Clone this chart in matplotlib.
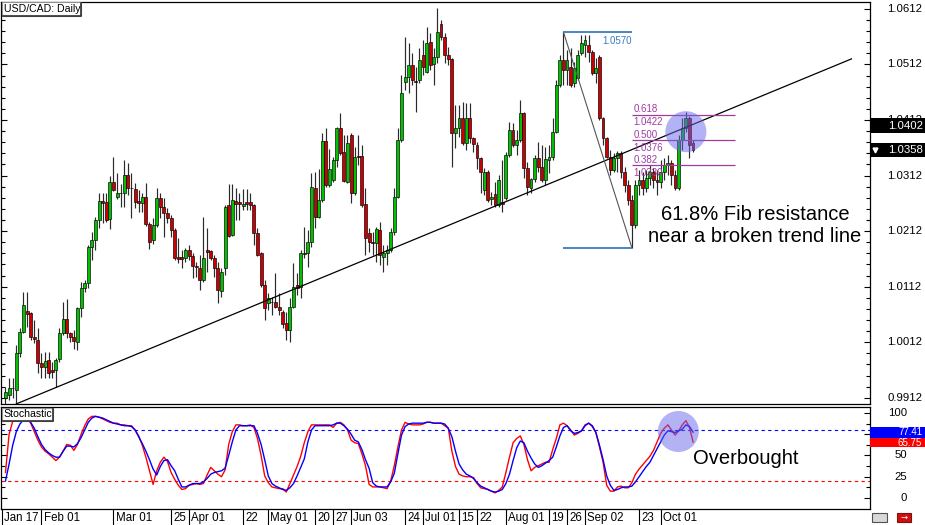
import matplotlib
matplotlib.use("Agg")
import matplotlib.pyplot as plt
import matplotlib.transforms as mtransforms
from matplotlib.patches import Rectangle
from matplotlib.ticker import FixedLocator
import numpy as np

plt.rcParams['font.family'] = ['Liberation Sans', 'DejaVu Sans']

# ---------------- data (USD/CAD daily, Jan 17 .. Oct 11) ----------------
opens = [0.9912, 0.9917, 0.9930, 0.9926, 0.9993, 1.0030, 1.0068, 1.0065, 1.0021, 1.0016,
         0.9975, 0.9967, 0.9980, 0.9962, 0.9962, 0.9982, 1.0029, 1.0054, 1.0029, 1.0021,
         1.0012, 1.0074, 1.0110, 1.0119, 1.0183, 1.0196, 1.0232, 1.0266, 1.0264, 1.0234,
         1.0300, 1.0273, 1.0281, 1.0281, 1.0313, 1.0290, 1.0288, 1.0266, 1.0263, 1.0273,
         1.0225, 1.0196, 1.0223, 1.0272, 1.0255, 1.0245, 1.0236, 1.0214, 1.0165, 1.0165,
         1.0164, 1.0178, 1.0167, 1.0149, 1.0146, 1.0124, 1.0178, 1.0176, 1.0164, 1.0146,
         1.0104, 1.0146, 1.0259, 1.0205, 1.0266, 1.0264, 1.0257, 1.0264, 1.0264, 1.0259,
         1.0209, 1.0173, 1.0115, 1.0083, 1.0085, 1.0084, 1.0075, 1.0066, 1.0047, 1.0034,
         1.0075, 1.0115, 1.0111, 1.0173, 1.0173, 1.0192, 1.0290, 1.0237, 1.0268, 1.0374,
         1.0295, 1.0304, 1.0340, 1.0398, 1.0354, 1.0300, 1.0385, 1.0281, 1.0347, 1.0347,
         1.0261, 1.0209, 1.0192, 1.0191, 1.0214, 1.0165, 1.0173, 1.0178, 1.0210, 1.0273,
         1.0376, 1.0480, 1.0489, 1.0511, 1.0482, 1.0484, 1.0529, 1.0498, 1.0552, 1.0513,
         1.0525, 1.0585, 1.0561, 1.0529, 1.0522, 1.0389, 1.0398, 1.0416, 1.0371, 1.0416,
         1.0380, 1.0367, 1.0344, 1.0286, 1.0318, 1.0270, 1.0279, 1.0259, 1.0264, 1.0272,
         1.0349, 1.0394, 1.0367, 1.0376, 1.0425, 1.0326, 1.0290, 1.0306, 1.0344, 1.0327,
         1.0304, 1.0340, 1.0345, 1.0390, 1.0475, 1.0520, 1.0502, 1.0507, 1.0479, 1.0488,
         1.0533, 1.0547, 1.0547, 1.0534, 1.0497, 1.0525, 1.0416, 1.0380, 1.0345, 1.0322,
         1.0344, 1.0353, 1.0318, 1.0295, 1.0268, 1.0223, 1.0295, 1.0304, 1.0290, 1.0308,
         1.0318, 1.0304, 1.0300, 1.0318, 1.0331, 1.0335, 1.0313, 1.0290, 1.0376, 1.0398,
         1.0416, 1.0371]
highs = [0.9931, 0.9948, 0.9948, 1.0007, 1.0038, 1.0102, 1.0102, 1.0067, 1.0052, 1.0038,
         0.9993, 0.9994, 0.9994, 0.9976, 0.9984, 1.0038, 1.0084, 1.0090, 1.0030, 1.0034,
         1.0075, 1.0120, 1.0124, 1.0187, 1.0210, 1.0237, 1.0281, 1.0281, 1.0281, 1.0311,
         1.0345, 1.0317, 1.0297, 1.0340, 1.0335, 1.0317, 1.0299, 1.0286, 1.0281, 1.0299,
         1.0228, 1.0236, 1.0290, 1.0281, 1.0272, 1.0254, 1.0241, 1.0218, 1.0200, 1.0178,
         1.0182, 1.0187, 1.0173, 1.0156, 1.0169, 1.0237, 1.0218, 1.0178, 1.0169, 1.0156,
         1.0146, 1.0259, 1.0297, 1.0297, 1.0290, 1.0281, 1.0288, 1.0288, 1.0281, 1.0261,
         1.0218, 1.0174, 1.0124, 1.0101, 1.0093, 1.0137, 1.0101, 1.0070, 1.0066, 1.0092,
         1.0155, 1.0137, 1.0178, 1.0219, 1.0214, 1.0317, 1.0318, 1.0324, 1.0389, 1.0398,
         1.0360, 1.0345, 1.0399, 1.0425, 1.0385, 1.0385, 1.0389, 1.0363, 1.0385, 1.0367,
         1.0290, 1.0218, 1.0210, 1.0219, 1.0228, 1.0187, 1.0187, 1.0218, 1.0290, 1.0398,
         1.0493, 1.0561, 1.0551, 1.0533, 1.0507, 1.0542, 1.0556, 1.0579, 1.0569, 1.0542,
         1.0614, 1.0592, 1.0569, 1.0543, 1.0524, 1.0439, 1.0439, 1.0444, 1.0443, 1.0443,
         1.0381, 1.0372, 1.0345, 1.0326, 1.0322, 1.0282, 1.0300, 1.0313, 1.0340, 1.0354,
         1.0408, 1.0407, 1.0394, 1.0448, 1.0426, 1.0336, 1.0308, 1.0349, 1.0372, 1.0367,
         1.0363, 1.0367, 1.0416, 1.0484, 1.0529, 1.0570, 1.0538, 1.0542, 1.0516, 1.0538,
         1.0565, 1.0565, 1.0565, 1.0538, 1.0524, 1.0529, 1.0417, 1.0381, 1.0358, 1.0353,
         1.0356, 1.0356, 1.0327, 1.0304, 1.0277, 1.0304, 1.0322, 1.0318, 1.0322, 1.0331,
         1.0326, 1.0322, 1.0340, 1.0344, 1.0349, 1.0340, 1.0322, 1.0385, 1.0416, 1.0426,
         1.0420, 1.0376]
lows = [0.9901, 0.9908, 0.9912, 0.9902, 0.9985, 1.0029, 1.0039, 1.0016, 1.0011, 0.9957,
        0.9948, 0.9948, 0.9948, 0.9948, 0.9931, 0.9976, 1.0025, 1.0020, 1.0012, 1.0000,
        0.9998, 1.0057, 1.0102, 1.0110, 1.0160, 1.0178, 1.0218, 1.0227, 1.0228, 1.0216,
        1.0284, 1.0270, 1.0255, 1.0255, 1.0277, 1.0236, 1.0254, 1.0246, 1.0246, 1.0221,
        1.0180, 1.0189, 1.0219, 1.0236, 1.0201, 1.0227, 1.0201, 1.0160, 1.0155, 1.0146,
        1.0156, 1.0160, 1.0128, 1.0129, 1.0106, 1.0120, 1.0138, 1.0160, 1.0129, 1.0083,
        1.0093, 1.0133, 1.0201, 1.0203, 1.0232, 1.0232, 1.0250, 1.0250, 1.0250, 1.0187,
        1.0167, 1.0111, 1.0052, 1.0070, 1.0061, 1.0074, 1.0061, 1.0038, 1.0016, 1.0012,
        1.0074, 1.0097, 1.0092, 1.0164, 1.0147, 1.0183, 1.0218, 1.0236, 1.0264, 1.0291,
        1.0291, 1.0300, 1.0327, 1.0349, 1.0300, 1.0299, 1.0263, 1.0277, 1.0331, 1.0255,
        1.0169, 1.0174, 1.0169, 1.0156, 1.0151, 1.0138, 1.0151, 1.0174, 1.0205, 1.0272,
        1.0372, 1.0466, 1.0461, 1.0475, 1.0426, 1.0479, 1.0493, 1.0497, 1.0502, 1.0475,
        1.0515, 1.0556, 1.0515, 1.0511, 1.0327, 1.0362, 1.0381, 1.0367, 1.0358, 1.0371,
        1.0354, 1.0324, 1.0281, 1.0277, 1.0264, 1.0259, 1.0255, 1.0255, 1.0246, 1.0268,
        1.0345, 1.0363, 1.0349, 1.0372, 1.0308, 1.0277, 1.0281, 1.0300, 1.0318, 1.0300,
        1.0295, 1.0317, 1.0340, 1.0389, 1.0471, 1.0475, 1.0475, 1.0471, 1.0471, 1.0484,
        1.0529, 1.0525, 1.0516, 1.0493, 1.0479, 1.0412, 1.0367, 1.0344, 1.0313, 1.0318,
        1.0318, 1.0308, 1.0282, 1.0259, 1.0182, 1.0218, 1.0277, 1.0277, 1.0282, 1.0295,
        1.0290, 1.0277, 1.0290, 1.0304, 1.0313, 1.0295, 1.0286, 1.0286, 1.0358, 1.0390,
        1.0344, 1.0354]
closes = [0.9922, 0.9930, 0.9929, 0.9993, 1.0030, 1.0079, 1.0063, 1.0021, 1.0018, 0.9975,
          0.9967, 0.9978, 0.9957, 0.9958, 0.9980, 1.0029, 1.0054, 1.0029, 1.0021, 1.0014,
          1.0074, 1.0110, 1.0119, 1.0183, 1.0196, 1.0232, 1.0266, 1.0263, 1.0232, 1.0300,
          1.0286, 1.0281, 1.0280, 1.0313, 1.0290, 1.0289, 1.0264, 1.0263, 1.0273, 1.0225,
          1.0192, 1.0223, 1.0272, 1.0255, 1.0245, 1.0236, 1.0214, 1.0164, 1.0162, 1.0162,
          1.0178, 1.0167, 1.0149, 1.0147, 1.0124, 1.0164, 1.0174, 1.0164, 1.0146, 1.0106,
          1.0138, 1.0255, 1.0203, 1.0268, 1.0261, 1.0261, 1.0261, 1.0261, 1.0259, 1.0209,
          1.0169, 1.0115, 1.0074, 1.0092, 1.0084, 1.0075, 1.0070, 1.0045, 1.0034, 1.0075,
          1.0111, 1.0110, 1.0173, 1.0171, 1.0192, 1.0291, 1.0237, 1.0268, 1.0374, 1.0295,
          1.0324, 1.0340, 1.0398, 1.0353, 1.0302, 1.0371, 1.0281, 1.0345, 1.0345, 1.0259,
          1.0200, 1.0192, 1.0191, 1.0216, 1.0169, 1.0173, 1.0178, 1.0210, 1.0273, 1.0376,
          1.0461, 1.0489, 1.0511, 1.0484, 1.0480, 1.0520, 1.0507, 1.0551, 1.0511, 1.0525,
          1.0570, 1.0561, 1.0529, 1.0522, 1.0389, 1.0398, 1.0416, 1.0371, 1.0416, 1.0380,
          1.0369, 1.0344, 1.0318, 1.0318, 1.0268, 1.0273, 1.0259, 1.0304, 1.0261, 1.0349,
          1.0394, 1.0367, 1.0376, 1.0425, 1.0326, 1.0291, 1.0306, 1.0344, 1.0327, 1.0304,
          1.0342, 1.0345, 1.0390, 1.0475, 1.0520, 1.0502, 1.0520, 1.0475, 1.0506, 1.0529,
          1.0551, 1.0556, 1.0534, 1.0497, 1.0506, 1.0416, 1.0380, 1.0345, 1.0322, 1.0344,
          1.0353, 1.0318, 1.0295, 1.0268, 1.0223, 1.0295, 1.0304, 1.0290, 1.0308, 1.0318,
          1.0304, 1.0300, 1.0318, 1.0331, 1.0335, 1.0313, 1.0290, 1.0376, 1.0398, 1.0416,
          1.0367, 1.0358]

stoch_main = [30, 75, 90, 92, 94, 94, 94, 88, 78, 68, 60, 55, 52, 48, 44, 48, 55, 63, 62, 56,
              63, 75, 85, 93, 96, 96, 95, 93, 91, 89, 88, 88, 86, 86, 85, 85, 80, 73, 62, 48,
              32, 16, 32, 42, 48, 43, 30, 22, 15, 10, 11, 15, 16, 17, 16, 17, 27, 36, 32, 28,
              25, 33, 63, 78, 86, 86, 85, 85, 86, 83, 70, 50, 26, 18, 13, 12, 11, 11, 7, 17,
              27, 37, 49, 65, 78, 86, 86, 86, 86, 86, 86, 83, 88, 89, 86, 80, 68, 65, 64, 52,
              38, 16, 13, 13, 13, 12, 11, 20, 38, 60, 80, 89, 87, 86, 86, 86, 87, 89, 89, 88,
              88, 88, 85, 82, 55, 37, 28, 26, 25, 25, 24, 17, 12, 11, 10, 8, 6, 9, 13, 30,
              48, 65, 70, 73, 63, 45, 32, 36, 38, 40, 42, 42, 57, 70, 86, 88, 85, 80, 74, 76,
              79, 86, 88, 84, 77, 60, 42, 15, 8, 8, 13, 14, 12, 12, 18, 28, 34, 39, 44, 49,
              56, 66, 76, 82, 86, 80, 74, 79, 86, 91, 83, 65.75]
stoch_signal = [20, 40, 62, 78, 87, 92, 93, 89, 82, 72, 63, 57, 53, 50, 48, 48, 55, 61, 61, 60,
                64, 71, 80, 89, 94, 96, 95, 94, 92, 90, 88, 87, 86, 85, 85, 84, 80, 72, 64, 55,
                45, 34, 27, 37, 44, 45, 38, 32, 22, 13, 13, 15, 17, 17, 17, 19, 23, 28, 30, 31,
                32, 35, 50, 66, 80, 85, 85, 85, 85, 85, 76, 63, 45, 26, 17, 14, 12, 10, 9, 12,
                17, 26, 36, 46, 66, 80, 85, 85, 85, 85, 85, 86, 88, 88, 85, 81, 75, 68, 66, 57,
                45, 35, 18, 14, 13, 13, 13, 19, 29, 52, 74, 84, 87, 88, 88, 88, 88, 89, 89, 88,
                88, 88, 87, 82, 72, 55, 40, 33, 28, 26, 23, 18, 14, 12, 10, 8, 7, 8, 10, 17,
                28, 44, 59, 67, 65, 55, 47, 40, 36, 38, 41, 44, 48, 60, 73, 83, 85, 79, 76, 77,
                79, 85, 88, 85, 77, 62, 45, 26, 15, 9, 10, 12, 13, 13, 14, 19, 25, 31, 37, 42,
                50, 58, 66, 74, 79, 78, 77, 79, 81, 86, 84, 77.41]

date_labels = ["Jan 17", "Feb 01", "Mar 01", "25", "Apr 01", "22", "May 01", "20", "27",
               "Jun 03", "24", "Jul 01", "15", "22", "Aug 01", "19", "26", "Sep 02", "23", "Oct 01"]
date_label_bars = [0, 11, 31, 47, 52, 67, 74, 87, 92, 97, 112, 117, 127, 132, 140, 152, 157,
                   162, 177, 183]
price_ticks = [1.0612, 1.0512, 1.0412, 1.0312, 1.0212, 1.0112, 1.0012, 0.9912]
stoch_ticks = [100, 75, 50, 25, 0]
stoch_levels = [80, 20]

trend_start = (3, 0.9901)
trend_end = (235, 1.0522)
fib_high = (155, 1.0570)
fib_low = (174, 1.0182)
fib_ratios = [0.618, 0.500, 0.382]
fib_end_bar = 202.6
trend_price_label = 1.0402
last_price = 1.0358
highlight_price = (189.0, 1.0391)
highlight_stoch = (186.9, 78.2)

# ---------------- layout ----------------
W, H = 925, 525
fig = plt.figure(figsize=(W / 100, H / 100), dpi=100)


def frame(l, t, r, b):
    return [l / W, 1 - b / H, (r - l) / W, (b - t) / H]


ax = fig.add_axes(frame(1, 1.5, 870.5, 404))
ax2 = fig.add_axes(frame(1, 406.5, 870.5, 509))
XLIM = (-1.25, 240.28)
for a in (ax, ax2):
    a.set_xlim(*XLIM)
    a.tick_params(axis='x', which='both', bottom=False, top=False,
                  labelbottom=False)
    for s in a.spines.values():
        s.set_color('black')
        s.set_linewidth(0.9)
ax.set_ylim(0.99008, 1.06253)
ax2.set_ylim(-12.94, 107.6)

# ---------------- candles ----------------
o = np.array(opens)
hi = np.array(highs)
lo = np.array(lows)
c = np.array(closes)
idx = np.arange(len(c))
up = c >= o
ax.vlines(idx, lo, hi, color='#2a2a2a', lw=0.85, zorder=2)
body_lo = np.minimum(o, c)
body_h = np.maximum(np.abs(c - o), 0.00012)
cols = ['#00c000' if u else '#cc0000' for u in up]
ax.bar(idx, body_h, bottom=body_lo, width=0.78, color=cols,
       edgecolor='black', linewidth=0.45, zorder=3)

# trend line
ax.plot([trend_start[0], trend_end[0]], [trend_start[1], trend_end[1]],
        color='black', lw=0.9, zorder=4)

# fibonacci
fh_i, fh_p = fib_high
fl_i, fl_p = fib_low
ax.plot([fh_i, fl_i], [fh_p, fl_p], color='#555555', lw=0.8, zorder=4)
ax.hlines([fh_p, fl_p], fh_i, fl_i, color='#3a7cc0', lw=1.3, zorder=4)
ax.annotate(f'{fh_p:.4f}', (fl_i, fh_p), xytext=(0, -2.5),
            textcoords='offset points', ha='right', va='top', fontsize=7,
            color='#3a7cc0')
FIBC = '#a03ca0'
for r in fib_ratios:
    lvl = fl_p + r * (fh_p - fl_p)
    ax.hlines(lvl, fl_i, fib_end_bar, color=FIBC, lw=0.9, zorder=4)
    ax.annotate(f'{r:.3f}', (fl_i, lvl), xytext=(1, 0.3),
                textcoords='offset points', ha='left', va='bottom',
                fontsize=7, color=FIBC, zorder=5)
    ax.annotate(f'{lvl:.4f}', (fl_i, lvl), xytext=(1, -2.0),
                textcoords='offset points', ha='left', va='top',
                fontsize=7, color=FIBC, zorder=5)

# highlight circles (diameter ~41 px)
msize = (41 * 0.72) ** 2
ax.scatter([highlight_price[0]], [highlight_price[1]], s=msize,
           color=(0.40, 0.40, 0.92, 0.5), edgecolors='none', zorder=6)
ax2.scatter([highlight_stoch[0]], [highlight_stoch[1]], s=msize,
            color=(0.40, 0.40, 0.92, 0.5), edgecolors='none', zorder=6)

# ---------------- price axis ----------------
minor_p = [round(price_ticks[-1] + 0.002 * k, 4) for k in range(-1, 37)]
ax.yaxis.set_major_locator(FixedLocator(price_ticks))
ax.yaxis.set_minor_locator(FixedLocator(minor_p))
ax.tick_params(axis='y', which='both', direction='in', left=True, right=True,
               labelleft=False, labelright=False, color='black', width=0.8)
ax.tick_params(axis='y', which='major', length=4)
ax.tick_params(axis='y', which='minor', length=3)
ytr = ax.get_yaxis_transform()
for p in price_ticks:
    ax.text(1.0190, p, f'{p:.4f}', transform=ytr, ha='left', va='center',
            fontsize=8.2, clip_on=False)


def price_box(p, label, tri=False):
    hh = 7.2 * 0.00018
    ax.add_patch(Rectangle((1.0, p - hh), 0.0630, 2 * hh, transform=ytr,
                           facecolor='black', edgecolor='none', clip_on=False,
                           zorder=10))
    ax.text(1.0201, p, label, transform=ytr, ha='left', va='center',
            fontsize=8.2, color='white', clip_on=False, zorder=11)
    if tri:
        ax.plot([1.0055], [p], marker='v', markersize=3.5, color='white',
                transform=ytr, clip_on=False, zorder=11)


price_box(trend_price_label, f'{trend_price_label:.4f}')
price_box(last_price, f'{last_price:.4f}', tri=True)

# ---------------- stochastic ----------------
ax2.axhline(stoch_levels[0], color='#0000ff', lw=0.8, ls=(0, (3, 3)), zorder=1)
ax2.axhline(stoch_levels[1], color='#ff0000', lw=0.8, ls=(0, (3, 3)), zorder=1)
ax2.plot(idx, stoch_main, color='#ff0000', lw=1.0, zorder=3)
ax2.plot(idx, stoch_signal, color='#0000ff', lw=1.0, zorder=3)
ax2.yaxis.set_major_locator(FixedLocator(stoch_ticks))
ax2.yaxis.set_minor_locator(FixedLocator([12.5, 37.5, 62.5, 87.5]))
ax2.tick_params(axis='y', which='both', direction='in', left=True, right=True,
                labelleft=False, labelright=False, color='black', width=0.8)
ax2.tick_params(axis='y', which='major', length=4)
ax2.tick_params(axis='y', which='minor', length=3)
ytr2 = ax2.get_yaxis_transform()
for v in stoch_ticks:
    ax2.text(1.0420, v, f'{v:d}', transform=ytr2, ha='right', va='center',
             fontsize=8.2, clip_on=False)

# value boxes: red (main) first, blue (signal) drawn on top of it
BOX_PX = 0.85  # pixels per stochastic unit


def stoch_box(v, color, text_shift_px):
    hh = 6.3
    ax2.add_patch(Rectangle((1.0, v - hh), 0.0630, 2 * hh, transform=ytr2,
                            facecolor=color, edgecolor='none', clip_on=False,
                            zorder=10))
    ax2.text(1.0595, v + text_shift_px / BOX_PX, f'{v:.2f}', transform=ytr2,
             ha='right', va='center', fontsize=7.0, color='white',
             clip_on=False, zorder=11)


stoch_box(stoch_main[-1], '#ff0000', -1.2)
stoch_box(stoch_signal[-1], '#0000ff', 0.4)

# ---------------- date axis ----------------
bt = mtransforms.blended_transform_factory(ax2.transData, ax2.transAxes)
for b, lab in zip(date_label_bars, date_labels):
    xs = b - 1.05
    ax2.plot([xs, xs], [0, -16 / 102.5], transform=bt, color='black', lw=0.8,
             clip_on=False)
    ax2.text(xs + 0.62, -3 / 102.5, lab, transform=bt, ha='left', va='top',
             fontsize=8.3, clip_on=False)

# ---------------- labels / annotations ----------------


def label_box(l, t, r, b, text):
    fig.add_artist(Rectangle((l / W, 1 - b / H), (r - l) / W, (b - t) / H,
                             transform=fig.transFigure, facecolor='white',
                             edgecolor='#909090', lw=0.8, zorder=20))
    fig.add_artist(plt.Line2D([(l + 1) / W, r / W, r / W],
                              [1 - b / H, 1 - b / H, 1 - (t + 1) / H],
                              transform=fig.transFigure, color='#303030',
                              lw=1.2, zorder=21))
    fig.text((l + 2) / W, 1 - (t + b) / 2 / H, text, ha='left', va='center',
             fontsize=7.6, zorder=22)


label_box(1.5, 1.5, 80.5, 15.5, 'USD/CAD: Daily')
label_box(1.5, 407.5, 53, 420.5, 'Stochastic')

fig.text(755 / W, 1 - 215 / H, '61.8% Fib resistance', ha='center',
         va='center', fontsize=14.5)
fig.text(755 / W, 1 - 236 / H, 'near a broken trend line', ha='center',
         va='center', fontsize=14.5)
fig.text(746 / W, 1 - 458 / H, 'Overbought', ha='center', va='center',
         fontsize=14.5)

# small toolbar icons bottom right
fig.add_artist(Rectangle((872 / W, 1 - 522 / H), 15 / W, 9 / H,
                         transform=fig.transFigure, facecolor='#d8d8d8',
                         edgecolor='#505050', lw=0.8))
fig.add_artist(Rectangle((897 / W, 1 - 522 / H), 14 / W, 9 / H,
                         transform=fig.transFigure, facecolor='#d01010',
                         edgecolor='#801010', lw=0.8))
fig.text(904 / W, 1 - 517.5 / H, '→', color='white', fontsize=6,
         ha='center', va='center', family='DejaVu Sans')

fig.savefig('out.png', dpi=100)
